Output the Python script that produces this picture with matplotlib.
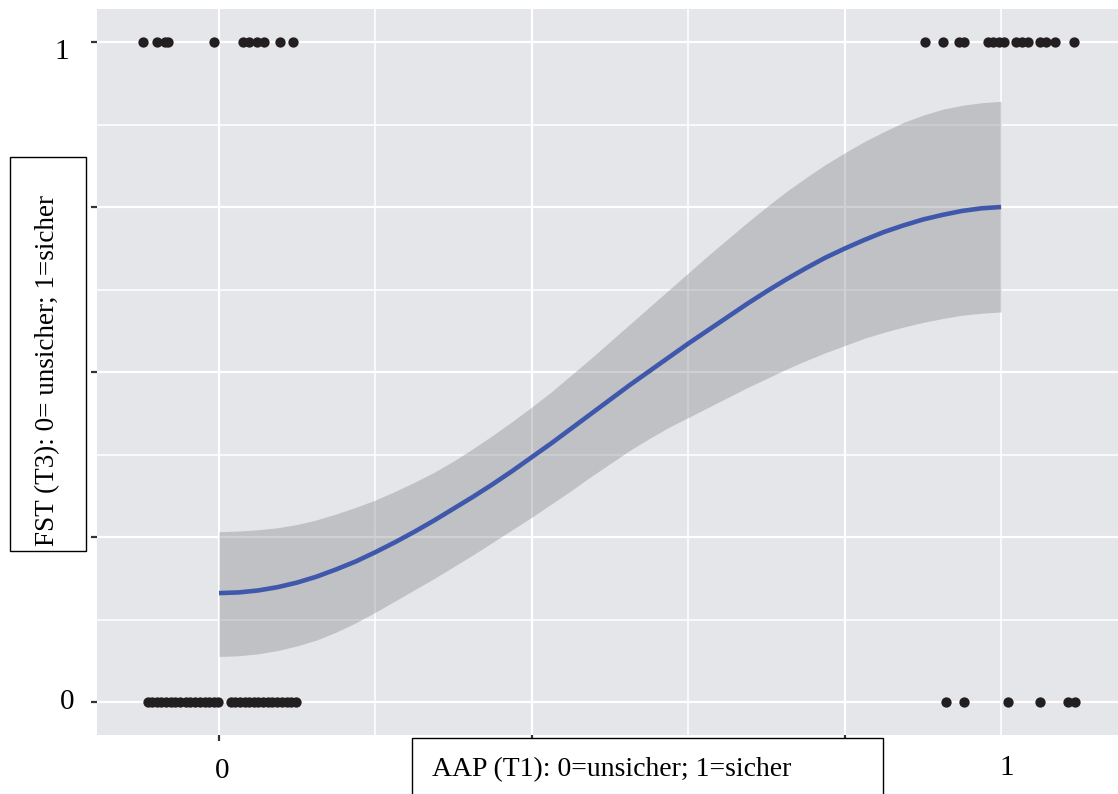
import matplotlib
matplotlib.use("Agg")
import matplotlib.pyplot as plt
from matplotlib.patches import Rectangle

# ---- data ----
fit_x = [0.000, 0.025, 0.050, 0.075, 0.100, 0.125, 0.150, 0.175, 0.200, 0.225,
         0.250, 0.275, 0.300, 0.325, 0.350, 0.375, 0.400, 0.425, 0.450, 0.475,
         0.500, 0.525, 0.550, 0.575, 0.600, 0.625, 0.650, 0.675, 0.700, 0.725,
         0.750, 0.775, 0.800, 0.825, 0.850, 0.875, 0.900, 0.925, 0.950, 0.975, 1.000]
fit_y = [0.165, 0.166, 0.169, 0.174, 0.181, 0.190, 0.201, 0.213, 0.227, 0.242,
         0.258, 0.275, 0.293, 0.311, 0.330, 0.350, 0.371, 0.392, 0.414, 0.436,
         0.458, 0.480, 0.501, 0.522, 0.543, 0.563, 0.583, 0.603, 0.622, 0.640,
         0.657, 0.673, 0.687, 0.700, 0.712, 0.722, 0.731, 0.738, 0.744, 0.748, 0.750]
fit_upper = [0.258, 0.259, 0.261, 0.264, 0.269, 0.276, 0.285, 0.295, 0.306, 0.319,
             0.333, 0.348, 0.365, 0.384, 0.404, 0.425, 0.447, 0.470, 0.495, 0.520,
             0.546, 0.572, 0.598, 0.624, 0.650, 0.676, 0.701, 0.726, 0.750, 0.773,
             0.794, 0.814, 0.832, 0.849, 0.864, 0.878, 0.889, 0.898, 0.904, 0.908, 0.910]
fit_lower = [0.069, 0.070, 0.073, 0.078, 0.085, 0.094, 0.106, 0.120, 0.136, 0.153,
             0.170, 0.187, 0.205, 0.223, 0.242, 0.261, 0.280, 0.300, 0.320, 0.341,
             0.361, 0.381, 0.399, 0.416, 0.431, 0.446, 0.461, 0.476, 0.490, 0.504,
             0.517, 0.529, 0.540, 0.551, 0.560, 0.568, 0.575, 0.581, 0.586, 0.589, 0.591]

# jittered observations, y = 1
pts1_x = [-0.097, -0.079, -0.069, -0.065, -0.006, 0.031, 0.038, 0.049, 0.058, 0.078, 0.095,
          0.903, 0.926, 0.946, 0.953, 0.983, 0.990, 0.997, 1.004, 1.019, 1.027, 1.035,
          1.050, 1.058, 1.069, 1.093]
# jittered observations, y = 0
pts0_x = [-0.091, -0.086, -0.079, -0.074, -0.068, -0.061, -0.056, -0.050, -0.042, -0.037,
          -0.031, -0.024, -0.018, -0.013, -0.006, -0.001,
          0.015, 0.020, 0.027, 0.033, 0.038, 0.045, 0.050, 0.056, 0.063, 0.068, 0.074,
          0.081, 0.087, 0.092, 0.098,
          0.930, 0.953, 1.009, 1.050, 1.086, 1.095]

x_label = "AAP (T1): 0=unsicher; 1=sicher"
y_label = "FST (T3): 0= unsicher; 1=sicher"
x_tick_labels = ["0", "1"]
y_tick_labels = ["0", "1"]

# ---- figure ----
W, H = 1118, 794
fig = plt.figure(figsize=(W / 100, H / 100), dpi=100)
serif = ["Liberation Serif", "DejaVu Serif"]

ax = fig.add_axes([97 / W, 1 - 735 / H, (W - 97) / W, (735 - 9) / H])
ax.set_facecolor("#E5E6E9")
for s in ax.spines.values():
    s.set_visible(False)

ax.set_xlim(-0.156, 1.1496)
ax.set_ylim(-0.05, 1.05)

# grid
for gx in [0.0, 0.4, 0.8]:
    ax.axvline(gx, color="white", lw=1.6, zorder=0.5)
for gx in [0.2, 0.6, 1.0]:
    ax.axvline(gx, color="white", lw=1.1, zorder=0.5)
for gy in [0.0, 0.25, 0.5, 0.75, 1.0]:
    ax.axhline(gy, color="white", lw=1.6, zorder=0.5)
for gy in [0.125, 0.375, 0.625, 0.875]:
    ax.axhline(gy, color="white", lw=1.1, zorder=0.5)

ax.set_xticks([0.0, 0.4, 0.8])
ax.set_yticks([0.0, 0.25, 0.5, 0.75, 1.0])
ax.set_xticklabels([])
ax.set_yticklabels([])
ax.tick_params(axis="both", length=4, width=1.6, color="#333333")

# band and fit
ax.fill_between(fit_x, fit_lower, fit_upper, color="#888a8e", alpha=0.4,
                linewidth=0, zorder=1)
ax.plot(fit_x, fit_y, color="#4058AC", lw=3.3, zorder=2, solid_capstyle="butt",
        solid_joinstyle="round")

# points
ax.scatter(pts1_x, [1] * len(pts1_x), s=55, color="#231F20", linewidths=0, zorder=3)
ax.scatter(pts0_x, [0] * len(pts0_x), s=55, color="#231F20", linewidths=0, zorder=3)

# tick labels (placed as in the reference)
fs_tick = 21
fig.text(62 / W, 1 - 52 / H, y_tick_labels[1], family=serif, fontsize=fs_tick,
         ha="center", va="center")
fig.text(67 / W, 1 - 702 / H, y_tick_labels[0], family=serif, fontsize=fs_tick,
         ha="center", va="center")
fig.text(222 / W, 1 - 771 / H, x_tick_labels[0], family=serif, fontsize=fs_tick,
         ha="center", va="center")
fig.text(1007 / W, 1 - 768 / H, x_tick_labels[1], family=serif, fontsize=fs_tick,
         ha="center", va="center")

# axis title boxes
fig.patches.append(Rectangle((10 / W, 1 - 551 / H), 76 / W, 394 / H,
                             transform=fig.transFigure, fill=True, facecolor="white",
                             edgecolor="black", lw=1.0))
fig.text(48 / W, 1 - 371 / H, y_label, family=serif, fontsize=19.5, rotation=90,
         ha="center", va="center", rotation_mode="anchor")

fig.patches.append(Rectangle((412 / W, -0.02), 471 / W, 0.02 + 1 - 738 / H,
                             transform=fig.transFigure, fill=True, facecolor="white",
                             edgecolor="black", lw=1.0))
fig.text(432 / W, 1 - 776 / H, x_label, family=serif, fontsize=20,
         ha="left", va="baseline")

fig.savefig("out.png", dpi=100)
